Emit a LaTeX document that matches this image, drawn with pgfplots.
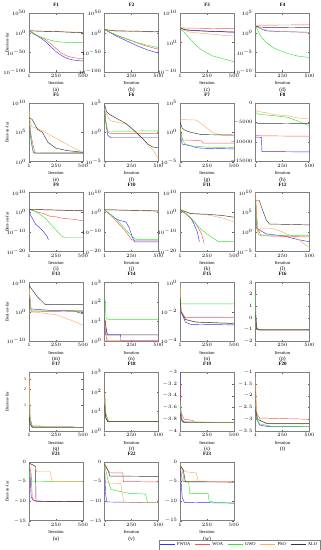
\documentclass[border=0pt]{standalone}
\usepackage{fontspec}
\setmainfont{Liberation Serif}
\usepackage{pgfplots}
\pgfplotsset{compat=1.18}
\usepgfplotslibrary{groupplots}
\definecolor{cF}{RGB}{50,50,255}
\definecolor{cW}{RGB}{255,80,80}
\definecolor{cG}{RGB}{50,230,50}
\definecolor{cP}{RGB}{255,170,100}
\definecolor{cA}{RGB}{55,55,55}
\pgfplotsset{
  lab/.style={xlabel={Iteration\\[1.5bp]{\fontsize{5.5}{6}\selectfont(#1)}}},
}
\begin{document}
\begin{tikzpicture}
\begin{groupplot}[
  group style={group size=4 by 6, horizontal sep=21.7bp, vertical sep=31bp},
  width=54bp, height=59bp, scale only axis,
  xmin=1, xmax=500, xtick={1,250,500},
  tick label style={font=\fontsize{4}{4.5}\selectfont},
  title style={font=\fontsize{5}{6}\selectfont\bfseries, yshift=-3bp},
  xlabel style={align=center, font=\fontsize{4.5}{5}\selectfont, yshift=2.5bp},
  every axis y label/.style={at={(axis description cs:-0.41,0.5)}, rotate=90, anchor=center, font=\fontsize{4.5}{5}\selectfont},
  axis line style={draw=gray, line width=0.6pt},
  major tick length=1.5bp, tick style={gray!80!black, line width=0.3pt},
  minor tick style={draw=none}, minor tick num=0,
  every axis plot/.append style={line width=0.45pt},
  scaled y ticks=false,
  yticklabel style={/pgf/number format/fixed, /pgf/number format/1000 sep={}},
  xticklabel style={yshift=1bp},
  yticklabel style={xshift=0.5bp},
  clip=true,
]
% F1
\nextgroupplot[title=F1, lab=a, ylabel={Best-so-far}, ymode=log, ymin=1e-100, ymax=1e50, ytick={1e-100,1e-50,1,1e50}]
\addplot[cF] coordinates {(1,1e5)(50,1e-3)(100,1e-12)(150,1e-22)(200,1e-35)(250,1e-48)(300,1e-58)(350,1e-65)(400,1e-69)(450,1e-71)(500,1e-72)};
\addplot[cW] coordinates {(1,1e5)(50,1e-3)(100,1e-10)(150,1e-17)(200,1e-28)(250,1e-40)(300,1e-52)(350,1e-59)(400,1e-63)(450,1e-65)(500,1e-66)};
\addplot[cG] coordinates {(1,1e5)(50,1e-5)(100,1e-10)(150,1e-15)(200,1e-19)(250,1e-22)(300,1e-24)(400,1e-25)(500,1e-25)};
\addplot[cP] coordinates {(1,1e5)(100,1e4)(250,1e3)(400,1e2)(500,1e1)};
\addplot[cA] coordinates {(1,1e5)(100,1e4)(250,1e3)(400,1e1)(500,1e0)};
% F2
\nextgroupplot[title=F2, lab=b, ymode=log, ymin=1e-100, ymax=1e50, ytick={1e-100,1e-50,1,1e50}]
\addplot[cF] coordinates {(1,1e8)(100,1e-7)(200,1e-20)(300,1e-33)(400,1e-44)(500,1e-52)};
\addplot[cW] coordinates {(1,1e8)(100,1e-5)(200,1e-15)(250,1e-20)(300,1e-26)(400,1e-35)(500,1e-42)};
\addplot[cG] coordinates {(1,1e8)(100,1e-5)(200,1e-16)(300,1e-25)(400,1e-32)(500,1e-38)};
\addplot[cP] coordinates {(1,1e15)(5,1e8)(100,1e4)(300,1e3)(500,1e2)};
\addplot[cA] coordinates {(1,1e8)(100,1e5)(300,1e4)(500,1e3)};
% F3
\nextgroupplot[title=F3, lab=c, ymode=log, ymin=1e-10, ymax=1e10, ytick={1e-10,1,1e10}]
\addplot[cF] coordinates {(1,1e5)(30,3e4)(100,1.5e4)(250,8e3)(500,3e3)};
\addplot[cW] coordinates {(1,1e5)(100,8e4)(300,6e4)(500,5e4)};
\addplot[cG] coordinates {(1,1e5)(50,1e3)(100,1e1)(150,1e-1)(200,3e-3)(250,3e-4)(300,3e-5)(400,3e-6)(500,3e-7)};
\addplot[cP] coordinates {(1,1e5)(50,1e4)(100,3e3)(250,1e3)(400,3e2)(500,1.5e2)};
\addplot[cA] coordinates {(1,1e5)(50,2e4)(150,1e4)(300,6e3)(500,4e3)};
% F4
\nextgroupplot[title=F4, lab=d, ymode=log, ymin=1e-10, ymax=1e5, ytick={1e-10,1e-5,1,1e5}]
\addplot[cF] coordinates {(1,50)(50,10)(100,3)(150,2.5)(300,1.8)(500,1.3)};
\addplot[cW] coordinates {(1,80)(100,90)(500,100)};
\addplot[cG] coordinates {(1,50)(50,1e-1)(100,3e-3)(150,3e-4)(200,5e-5)(300,5e-6)(400,1e-6)(500,5e-7)};
\addplot[cP] coordinates {(1,50)(50,10)(150,3)(300,2)(500,1)};
\addplot[cA] coordinates {(1,50)(50,25)(500,20)};
% F5
\nextgroupplot[title=F5, lab=e, ylabel={Best-so-far}, ymode=log, ymin=1, ymax=1e10, ytick={1,1e5,1e10}]
\addplot[cF] coordinates {(1,1e8)(10,1e5)(25,1e3)(40,40)(60,30)(500,30)};
\addplot[cW] coordinates {(1,1e8)(15,1e5)(30,3e3)(50,80)(60,30)(500,30)};
\addplot[cG] coordinates {(1,1e8)(10,1e5)(25,1e3)(40,30)(500,35)};
\addplot[cP] coordinates {(1,1e9)(10,1e7)(25,1e6)(100,3e5)(150,1e5)(200,3e4)(250,1e4)(300,3e3)(350,1e3)(400,3e2)(450,1e2)(500,50)};
\addplot[cA] coordinates {(1,3e7)(30,1.5e7)(50,3e6)(80,3e5)(125,1e5)(175,2e3)(250,2e2)(350,80)(500,40)};
% F6
\nextgroupplot[title=F6, lab=f, ymode=log, ymin=1e-5, ymax=1e5, ytick={1e-5,1,1e5}]
\addplot[cF] coordinates {(1,1e4)(10,1e2)(30,0.3)(60,0.12)(500,0.12)};
\addplot[cW] coordinates {(1,1e4)(10,1e2)(30,1)(60,0.6)(500,0.6)};
\addplot[cG] coordinates {(1,1e4)(10,1e2)(30,1.5)(500,1.8)};
\addplot[cP] coordinates {(1,1e4)(20,1e3)(50,1e2)(100,60)(200,25)(250,5)(300,0.5)(350,1e-1)(400,1e-2)(450,1e-3)(500,3e-5)};
\addplot[cA] coordinates {(1,5e4)(20,3e3)(50,1e3)(100,3e2)(200,30)(250,5)(300,0.8)(350,1e-1)(400,1e-2)(450,3e-3)(500,2.5e-3)};
% F7
\nextgroupplot[title=F7, lab=g, ymode=log, ymin=1e-5, ymax=1e5, ytick={1e-5,1,1e5}]
\addplot[cF] coordinates {(1,0.1)(10,0.08)(20,1e-2)(100,5e-3)(150,2.5e-3)(200,2e-3)(500,1.5e-3)};
\addplot[cW] coordinates {(1,10)(20,0.1)(30,0.05)(200,0.04)(210,0.015)(500,0.015)};
\addplot[cG] coordinates {(1,5)(20,0.05)(50,1e-2)(100,5e-3)(250,3e-3)(500,2.5e-3)};
\addplot[cP] coordinates {(1,150)(150,120)(200,30)(250,5)(300,1)(350,0.5)(400,0.3)(500,0.3)};
\addplot[cA] coordinates {(1,50)(20,5)(50,2)(100,1)(200,0.4)(500,0.35)};
% F8
\nextgroupplot[title=F8, lab=h, ymin=-15000, ymax=0, ytick={-15000,-10000,-5000,0}]
\addplot[cF] coordinates {(1,-8700)(55,-8800)(60,-12400)(500,-12500)};
\addplot[cW] coordinates {(1,-8000)(10,-8300)(50,-8400)(500,-8500)};
\addplot[cG] coordinates {(1,-2500)(50,-3000)(150,-3200)(250,-3500)(300,-3700)(350,-4200)(400,-4700)(450,-5300)(500,-5800)};
\addplot[cP] coordinates {(1,-1800)(20,-2200)(100,-2500)(150,-2900)(250,-3200)(300,-3300)(400,-3900)(500,-4000)};
\addplot[cA] coordinates {(1,-5000)(20,-5200)(500,-5300)};
% F9
\nextgroupplot[title=F9, lab=i, ylabel={Best-so-far}, ymode=log, ymin=1e-20, ymax=1e10, ytick={1e-20,1e-10,1,1e10}]
\addplot[cF] coordinates {(1,30)(10,0.1)(20,1e-2)(40,1e-4)(60,1e-6)(80,1e-7)(100,1e-8)(120,1e-9)(135,1e-10)(150,1e-11)(165,1e-12)(180,1e-14)};
\addplot[cW] coordinates {(1,30)(50,5)(80,1)(130,0.3)(190,1e-2)(250,5e-3)(300,1e-3)(400,3e-4)(500,5e-5)};
\addplot[cG] coordinates {(1,30)(60,3)(100,0.1)(150,1e-3)(200,1e-6)(250,1e-9)(300,1e-12)(330,1e-13)(500,1e-13)};
\addplot[cP] coordinates {(1,30)(500,5)};
\addplot[cA] coordinates {(1,30)(500,6)};
% F10
\nextgroupplot[title=F10, lab=j, ymode=log, ymin=1e-20, ymax=1e10, ytick={1e-20,1e-10,1,1e10}]
\addplot[cF] coordinates {(1,20)(50,0.1)(100,1e-3)(130,1e-4)(200,1e-5)(230,1e-8)(260,1e-13)(280,8.9e-16)(500,8.9e-16)};
\addplot[cW] coordinates {(1,20)(50,0.1)(100,1e-4)(150,1e-7)(200,1e-10)(250,1e-14)(280,4e-15)(500,4e-15)};
\addplot[cG] coordinates {(1,20)(50,1e-1)(100,1e-3)(150,1e-6)(200,1e-9)(250,1e-12)(290,1.5e-14)(500,1.5e-14)};
\addplot[cP] coordinates {(1,20)(500,3)};
\addplot[cA] coordinates {(1,20)(500,5)};
% F11
\nextgroupplot[title=F11, lab=k, ymode=log, ymin=1e-20, ymax=1e10, ytick={1e-20,1e-10,1,1e10}]
\addplot[cF] coordinates {(1,10)(50,0.3)(100,1e-3)(130,1e-6)(160,1e-10)(180,1e-15)};
\addplot[cW] coordinates {(1,10)(50,0.3)(100,1e-3)(150,1e-6)(200,1e-11)(225,1e-16)};
\addplot[cG] coordinates {(1,10)(50,0.3)(100,1e-3)(150,1e-6)(200,1e-9)(250,1e-11)(300,1e-13)(350,1.5e-15)(500,1.5e-15)};
\addplot[cP] coordinates {(1,20)(100,0.2)(250,0.05)(400,1e-3)(500,1e-5)};
\addplot[cA] coordinates {(1,20)(100,0.2)(250,0.1)(400,0.02)(500,3e-3)};
% F12
\nextgroupplot[title=F12, lab=l, ymode=log, ymin=1e-5, ymax=1e10, ytick={1e-5,1,1e5,1e10}]
\addplot[cF] coordinates {(1,1e8)(10,8)(100,0.3)(250,0.1)(400,1e-2)(500,3e-3)};
\addplot[cW] coordinates {(1,1e8)(20,10)(50,0.1)(500,0.05)};
\addplot[cG] coordinates {(1,1e8)(10,10)(30,0.15)(500,0.12)};
\addplot[cP] coordinates {(1,1e10)(20,1)(50,10)(150,8)(250,1)(400,1e-2)(500,1e-4)};
\addplot[cA] coordinates {(1,1e8)(35,1e8)(60,1e6)(100,1e3)(130,100)(500,60)};
% F13
\nextgroupplot[title=F13, lab=m, ylabel={Best-so-far}, ymode=log, ymin=1e-10, ymax=1e10, ytick={1e-10,1,1e10}]
\addplot[cF] coordinates {(1,1e8)(10,10)(200,3)(400,3)(500,0.2)};
\addplot[cW] coordinates {(1,1e8)(20,1)(500,1.5)};
\addplot[cG] coordinates {(1,1e8)(20,2)(500,2.5)};
\addplot[cP] coordinates {(1,1e8)(20,10)(30,1)(100,0.5)(250,1e-1)(400,1e-3)(500,3e-5)};
\addplot[cA] coordinates {(1,1e9)(20,1e8)(80,1e5)(150,3e2)(500,3e2)};
% F14
\nextgroupplot[title=F14, lab=n, ymode=log, ymin=0.95, ymax=1000, ytick={1,10,100,1000}]
\addplot[cF] coordinates {(1,5)(10,2)(150,2)(151,0.998)(500,0.998)};
\addplot[cW] coordinates {(1,10)(10,3)(20,1)(500,1)};
\addplot[cG] coordinates {(1,300)(15,15)(30,12.7)(500,12.7)};
\addplot[cP] coordinates {(1,15)(15,5)(25,1)(500,1)};
\addplot[cA] coordinates {(1,15)(20,3)(30,2)(500,2)};
% F15
\nextgroupplot[title=F15, lab=o, ymode=log, ymin=1e-4, ymax=1, ytick={1e-4,1e-2,1}]
\addplot[cF] coordinates {(1,0.1)(10,1e-2)(50,2e-3)(100,1.4e-3)(500,1.3e-3)};
\addplot[cW] coordinates {(1,0.1)(10,1e-2)(50,4e-3)(500,4e-3)};
\addplot[cG] coordinates {(1,0.1)(5,0.035)(500,0.035)};
\addplot[cP] coordinates {(1,1)(10,1e-2)(50,3e-3)(150,2e-3)(500,1.7e-3)};
\addplot[cA] coordinates {(1,0.1)(10,1e-2)(50,3e-3)(150,2e-3)(500,1.6e-3)};
% F16
\nextgroupplot[title=F16, lab=p, ymin=-2, ymax=3, ytick={-2,-1,0,1,2,3}]
\addplot[cF] coordinates {(1,0.5)(10,-0.8)(30,-1.03)(500,-1.03)};
\addplot[cW] coordinates {(1,0)(10,-0.9)(30,-1.03)(500,-1.03)};
\addplot[cG] coordinates {(1,2)(5,-0.9)(30,-1.03)(500,-1.03)};
\addplot[cP] coordinates {(1,0)(10,-1)(30,-1.03)(500,-1.03)};
\addplot[cA] coordinates {(1,0.2)(10,-0.95)(50,-1.03)(500,-1.03)};
% F17
\nextgroupplot[title=F17, lab=q, ylabel={Best-so-far},
  y coord trafo/.code={\pgfmathparse{log10(#1)}},
  y coord inv trafo/.code={\pgfmathparse{10^(#1)}},
  ymin=0.34, ymax=4, ytick={1,2,3}, yticklabels={1,2,3}]
\addplot[cF] coordinates {(1,1)(10,0.5)(30,0.4)(500,0.398)};
\addplot[cW] coordinates {(1,3.6)(10,0.6)(30,0.4)(500,0.398)};
\addplot[cG] coordinates {(1,2)(10,0.6)(30,0.42)(100,0.42)(150,0.4)(500,0.398)};
\addplot[cP] coordinates {(1,3.3)(10,0.5)(30,0.4)(500,0.398)};
\addplot[cA] coordinates {(1,0.6)(10,0.45)(30,0.4)(500,0.398)};
% F18
\nextgroupplot[title=F18, lab=r, ymode=log, ymin=1, ymax=1000, ytick={1,10,100,1000}]
\addplot[cF] coordinates {(1,30)(10,5)(30,3)(500,3)};
\addplot[cW] coordinates {(1,150)(10,10)(30,3)(500,3)};
\addplot[cG] coordinates {(1,60)(10,8)(40,3)(500,3)};
\addplot[cP] coordinates {(1,40)(10,5)(30,3)(500,3)};
\addplot[cA] coordinates {(1,20)(10,5)(30,3)(500,3)};
% F19
\nextgroupplot[title=F19, lab=s, ymin=-4, ymax=-3, ytick={-4,-3.8,-3.6,-3.4,-3.2,-3}]
\addplot[cF] coordinates {(1,-3)(5,-3.6)(20,-3.83)(40,-3.86)(500,-3.86)};
\addplot[cW] coordinates {(1,-3.2)(10,-3.7)(40,-3.8)(120,-3.82)(130,-3.85)(500,-3.86)};
\addplot[cG] coordinates {(1,-3.5)(10,-3.8)(30,-3.85)(500,-3.86)};
\addplot[cP] coordinates {(1,-3.7)(20,-3.82)(60,-3.84)(500,-3.86)};
\addplot[cA] coordinates {(1,-3.7)(20,-3.83)(60,-3.86)(500,-3.86)};
% F20
\nextgroupplot[title=F20, lab=t, ymin=-3.5, ymax=-1, ytick={-3.5,-3,-2.5,-2,-1.5,-1}]
\addplot[cF] coordinates {(1,-2.5)(10,-3)(40,-3.25)(100,-3.3)(500,-3.31)};
\addplot[cW] coordinates {(1,-2)(10,-2.8)(40,-2.95)(500,-3.0)};
\addplot[cG] coordinates {(1,-2.3)(10,-3)(40,-3.2)(150,-3.3)(500,-3.32)};
\addplot[cP] coordinates {(1,-1.2)(10,-2.7)(50,-3.1)(150,-3.2)(500,-3.2)};
\addplot[cA] coordinates {(1,-2.6)(20,-3)(100,-3.18)(500,-3.18)};
% F21
\nextgroupplot[title=F21, lab=u, ylabel={Best-so-far}, ymin=-15, ymax=0, ytick={-15,-10,-5,0}]
\addplot[cF] coordinates {(1,-0.5)(10,-3)(20,-9)(40,-9.8)(100,-10.1)(500,-10.15)};
\addplot[cW] coordinates {(1,-0.5)(20,-3)(30,-9)(50,-10)(500,-10.15)};
\addplot[cG] coordinates {(1,-1)(5,-4.5)(10,-4.9)(500,-5.05)};
\addplot[cP] coordinates {(1,-0.5)(60,-1)(70,-2.5)(200,-2.5)(210,-5)(500,-5.05)};
\addplot[cA] coordinates {(1,-0.3)(40,-0.8)(60,-1.2)(65,-10)(500,-10.15)};
% F22
\nextgroupplot[title=F22, lab=v, ymin=-15, ymax=0, ytick={-15,-10,-5,0}]
\addplot[cF] coordinates {(1,-2)(10,-8)(20,-10.2)(500,-10.4)};
\addplot[cW] coordinates {(1,-1)(30,-2)(50,-2.8)(170,-2.8)(175,-5)(500,-5.1)};
\addplot[cG] coordinates {(1,-1)(20,-3)(30,-4.5)(60,-7)(100,-7.3)(200,-7.8)(220,-8)(380,-8.2)(400,-10.4)(500,-10.4)};
\addplot[cP] coordinates {(1,-1)(10,-5.3)(150,-5.5)(180,-10.3)(500,-10.4)};
\addplot[cA] coordinates {(1,-0.5)(30,-2)(50,-3.6)(500,-3.7)};
% F23
\nextgroupplot[title=F23, lab=w, ymin=-15, ymax=0, ytick={-15,-10,-5,0},
  legend columns=5,
  legend style={at={(axis description cs:2.6,-0.32)}, anchor=north east, draw=gray, line width=0.4pt, font=\fontsize{4.5}{5}\selectfont, inner sep=0.8bp, /tikz/every even column/.append style={column sep=2.5bp}},
  legend image code/.code={\draw[#1, line width=0.6pt] (0bp,0bp) -- (15bp,0bp);}]
\addplot[cF] coordinates {(1,-1)(10,-5)(20,-9)(40,-10.3)(500,-10.5)};
\addplot[cW] coordinates {(1,-1)(20,-4.5)(30,-5)(500,-5.1)};
\addplot[cG] coordinates {(1,-0.5)(20,-2)(40,-5)(80,-5)(90,-8)(260,-8)(270,-10)(320,-10.3)(500,-10.5)};
\addplot[cP] coordinates {(1,-1)(50,-2.5)(150,-2.8)(170,-5)(500,-5.1)};
\addplot[cA] coordinates {(1,-1)(30,-2)(50,-5.1)(500,-5.13)};
\legend{FWOA,WOA,GWO,PSO,ALO}
\end{groupplot}
\end{tikzpicture}
\end{document}
